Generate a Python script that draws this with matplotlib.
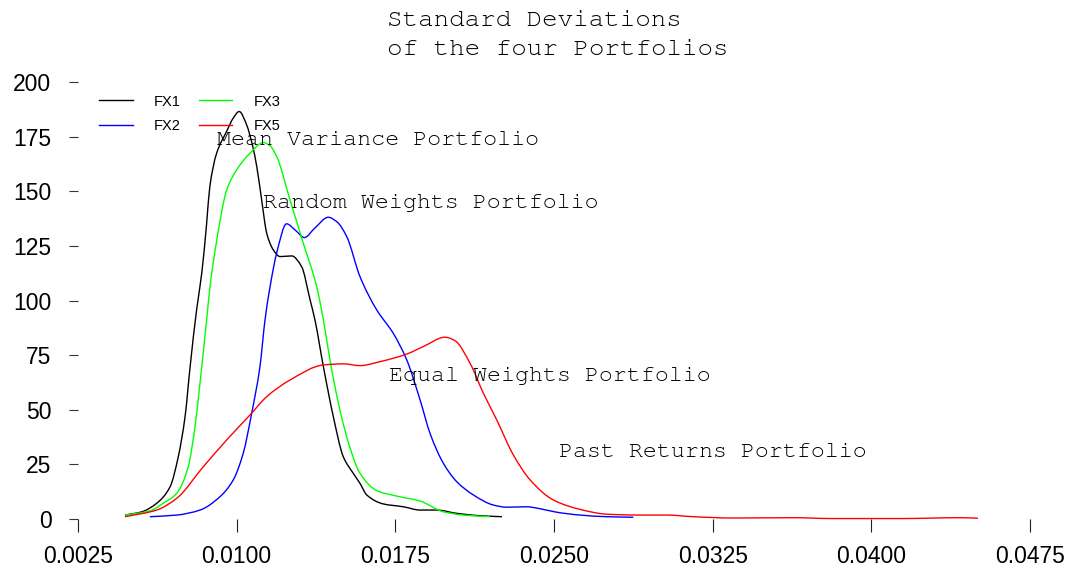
import matplotlib
matplotlib.use("Agg")
import numpy as np
import matplotlib.pyplot as plt
from matplotlib import font_manager
from matplotlib.path import Path
from matplotlib.patches import PathPatch

# Kernel density estimates of the portfolio standard deviations
fx1_x = [0.00472, 0.00552, 0.00622, 0.00685, 0.00724, 0.00756, 0.0078, 0.00811,
         0.00835, 0.00858, 0.00873, 0.00905, 0.00953, 0.00984, 0.01012, 0.01047,
         0.01076, 0.01095, 0.01118, 0.01142, 0.01173, 0.01205, 0.0126, 0.01307,
         0.01347, 0.0137, 0.0141, 0.01457, 0.01504, 0.01551, 0.01583, 0.01615,
         0.01693, 0.01788, 0.01867, 0.01945, 0.0204, 0.0215, 0.02254]
fx1_y = [1.8, 3.3, 7.2, 14.7, 28.5, 46.8, 69.7, 96.0,
         112.5, 135.2, 152.0, 167.3, 177.5, 183.5, 186.5, 180.4,
         170.5, 161.3, 146.1, 130.8, 123.2, 120.1, 120.4, 115.5,
         100.3, 91.1, 69.7, 46.8, 28.5, 20.9, 16.3, 11.0,
         6.9, 5.6, 4.1, 4.1, 2.6, 1.5, 1.05]

fx2_x = [0.0059, 0.00717, 0.00827, 0.00921, 0.00984, 0.01031, 0.01071, 0.0111,
         0.01134, 0.01158, 0.01189, 0.01236, 0.01276, 0.0132, 0.0137, 0.01433,
         0.01474, 0.0152, 0.01583, 0.01662, 0.0174, 0.01804, 0.01867, 0.01914,
         0.01977, 0.0204, 0.02119, 0.02213, 0.02276, 0.02371, 0.02434, 0.02513,
         0.02623, 0.02749, 0.02875]
fx2_y = [1.05, 1.8, 4.1, 10.2, 17.9, 30.1, 48.4, 69.7,
         91.1, 106.4, 121.7, 135.1, 132.3, 128.8, 133.2, 138.1,
         136.0, 129.3, 110.9, 95.7, 85.0, 72.8, 54.5, 39.2,
         25.5, 17.1, 11.0, 6.4, 5.4, 5.6, 4.7, 3.1,
         1.8, 1.05, 0.8]

fx3_x = [0.00472, 0.0059, 0.00653, 0.00717, 0.00771, 0.00803, 0.00835, 0.00858,
         0.00874, 0.00906, 0.00953, 0.0100, 0.01063, 0.01126, 0.01158, 0.01189,
         0.01252, 0.01315, 0.01378, 0.0141, 0.01441, 0.01488, 0.01536, 0.01583,
         0.01662, 0.01756, 0.01867, 0.01977, 0.02071, 0.02197]
fx3_y = [1.8, 3.7, 7.2, 11.8, 23.9, 42.3, 69.7, 91.1,
         106.4, 127.7, 150.6, 159.8, 167.4, 172.3, 170.8, 165.9,
         146.1, 126.2, 106.4, 91.1, 72.8, 49.9, 32.5, 20.9,
         13.0, 10.5, 8.2, 3.3, 1.8, 1.05]

fx5_x = [0.00472, 0.00622, 0.00717, 0.00842, 0.00953, 0.01063, 0.01142, 0.01252,
         0.0141, 0.01504, 0.01583, 0.01677, 0.01804, 0.01882, 0.01985, 0.02032,
         0.02103, 0.02166, 0.02229, 0.02308, 0.02387, 0.02497, 0.02623, 0.02749,
         0.02907, 0.03033, 0.03158, 0.03347, 0.03631, 0.0382, 0.04135, 0.04419,
         0.04504]
fx5_y = [1.05, 4.1, 9.5, 23.9, 36.2, 47.6, 56.0, 63.6,
         70.5, 71.0, 70.2, 72.0, 75.5, 78.9, 83.2, 81.6,
         71.3, 57.6, 45.4, 29.3, 17.9, 8.7, 4.4, 2.2,
         1.8, 1.8, 1.05, 0.45, 0.6, 0.2, 0.2, 0.6,
         0.35]

x_ticks = [0.0025, 0.0100, 0.0175, 0.0250, 0.0325, 0.0400, 0.0475]
y_ticks = [0, 25, 50, 75, 100, 125, 150, 175, 200]

series_names = ["FX1", "FX2", "FX3", "FX5"]
series_colors = ["#000000", "#0000FF", "#00FF00", "#FF0000"]

annot_text = ["Mean Variance Portfolio", "Random Weights Portfolio",
              "Equal Weights Portfolio", "Past Returns Portfolio"]
annot_x = [0.01666, 0.01919, 0.02479, 0.03252]
annot_y = [171.2, 142.3, 63.3, 28.5]

title_lines = ["Standard Deviations", "of the four Portfolios"]


def pick_font(candidates):
    installed = {f.name for f in font_manager.fontManager.ttflist}
    for name in candidates:
        if name in installed:
            return name
    return candidates[-1]


mono = pick_font(["Courier New", "Nimbus Mono PS", "Nimbus Mono L", "FreeMono",
                  "TeX Gyre Cursor", "Courier 10 Pitch", "Liberation Mono"])
sans = "Liberation Sans"


def smooth_path(xs, ys):
    """Monotone cubic (Fritsch-Carlson) Bezier path through the given points."""
    x = np.asarray(xs, float)
    y = np.asarray(ys, float)
    h = np.diff(x)
    d = np.diff(y) / h
    m = np.zeros_like(y)
    m[0], m[-1] = d[0], d[-1]
    for i in range(1, len(x) - 1):
        if d[i - 1] * d[i] <= 0:
            m[i] = 0.0
        else:
            w1 = 2 * h[i] + h[i - 1]
            w2 = h[i] + 2 * h[i - 1]
            m[i] = (w1 + w2) / (w1 / d[i - 1] + w2 / d[i])
    verts = [(x[0], y[0])]
    codes = [Path.MOVETO]
    for i in range(len(x) - 1):
        verts.append((x[i] + h[i] / 3, y[i] + m[i] * h[i] / 3))
        verts.append((x[i + 1] - h[i] / 3, y[i + 1] - m[i + 1] * h[i] / 3))
        verts.append((x[i + 1], y[i + 1]))
        codes += [Path.CURVE4] * 3
    return Path(verts, codes)


fig = plt.figure(figsize=(10.74, 5.73), dpi=100)
ax = fig.add_axes([78 / 1074, 54 / 573, 952 / 1074, 437 / 573])

curves = [(fx1_x, fx1_y), (fx2_x, fx2_y), (fx3_x, fx3_y), (fx5_x, fx5_y)]
handles = []
for (xs, ys), name, col in zip(curves, series_names, series_colors):
    patch = PathPatch(smooth_path(xs, ys), facecolor="none", edgecolor=col,
                      lw=1.0, transform=ax.transData, clip_on=False)
    ax.add_patch(patch)
    h, = ax.plot([], [], color=col, lw=1.0, label=name)
    handles.append(h)

ax.set_xlim(x_ticks[0], x_ticks[-1])
ax.set_ylim(y_ticks[0], y_ticks[-1])
ax.set_xticks(x_ticks)
ax.set_xticklabels([f"{v:.4f}" for v in x_ticks])
ax.set_yticks(y_ticks)
ax.set_yticklabels([str(v) for v in y_ticks])

for s in ax.spines.values():
    s.set_visible(False)
ax.tick_params(axis="x", direction="out", length=9.4, width=0.8, color="#222222",
               pad=9, labelsize=16.5)
ax.tick_params(axis="y", direction="out", length=6.6, width=0.8, color="#333333",
               pad=12.5, labelsize=16.5)
for lab in ax.get_xticklabels() + ax.get_yticklabels():
    lab.set_fontfamily(sans)

for t, x, y in zip(annot_text, annot_x, annot_y):
    ax.text(x, y, t, ha="center", va="baseline", family=mono, fontsize=16.8,
            color="black")

fig.text(387 / 1074, 1 - 26 / 573, title_lines[0], ha="left", va="baseline",
         family=mono, fontsize=18.6, color="black")
fig.text(387 / 1074, 1 - 55 / 573, title_lines[1], ha="left",
         va="baseline", family=mono, fontsize=18.6, color="black")

leg = fig.legend(handles, series_names, ncol=2, loc="upper left",
                 bbox_to_anchor=(99 / 1074, 1 - 94.5 / 573), frameon=False,
                 borderpad=0, borderaxespad=0, handlelength=2.3,
                 handletextpad=1.46, columnspacing=1.23, labelspacing=0.7,
                 prop={"family": sans, "size": 10.5})

fig.savefig("out.png", dpi=100, facecolor="white")
